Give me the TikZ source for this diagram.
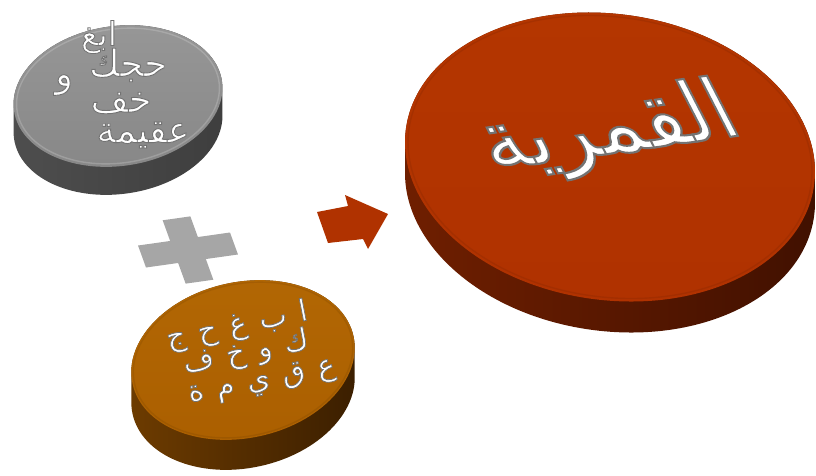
\documentclass[tikz,border=0pt]{standalone}
\usepackage{fontspec}
\newfontfamily\arabicfont[Script=Arabic, FakeBold=2.5]{DejaVu Sans}
\TeXXeTstate=1

\definecolor{greyface}{HTML}{878787}
\definecolor{greyfacelt}{HTML}{979797}
\definecolor{greysideA}{HTML}{4E4E4E}
\definecolor{greysideB}{HTML}{6A6A6A}
\definecolor{greysideC}{HTML}{3E3E3E}
\definecolor{ochreface}{HTML}{AB5F00}
\definecolor{ochrefacelt}{HTML}{B26704}
\definecolor{ochresideA}{HTML}{6E3C00}
\definecolor{ochresideB}{HTML}{5A3000}
\definecolor{ochresideC}{HTML}{3A1E00}
\definecolor{rustface}{HTML}{B03200}
\definecolor{rustfacelt}{HTML}{B43600}
\definecolor{rustsideA}{HTML}{701F00}
\definecolor{rustsideB}{HTML}{5A1800}
\definecolor{rustsideC}{HTML}{401000}
\definecolor{plusgrey}{HTML}{A6A6A6}

% white letters whose emboldening stroke is grey
\newcommand{\artext}[1]{\arabicfont\special{pdf:bcolor [1 1 1] [0.45 0.45 0.45]}\beginR #1\endR\special{pdf:ecolor}}
\newcommand{\gap}{\hspace{0.42em}}

\begin{document}
\begin{tikzpicture}[x=1pt, y=-1pt,
  lettering/.style={inner sep=0pt, text=white},
  rimline/.style={line width=1.4pt, opacity=0.18}]
\useasboundingbox (0,0) rectangle (816,475);

% ---------- grey slab ----------
\coordinate (gc) at (118,96);
\shade[left color=greysideA, middle color=greysideB, right color=greysideC]
  \foreach \k in {0,...,28} {(118,96+\k) ellipse [x radius=105pt, y radius=70pt, rotate=8]};
\shade[top color=greyfacelt, bottom color=greyface]
  (gc) ellipse [x radius=105pt, y radius=70pt, rotate=8];
\draw[rimline, white] (gc) ellipse [x radius=102pt, y radius=67pt, rotate=8];

\node[lettering, font=\fontsize{33}{35}\selectfont] (g1) at (99,37) {\artext{ابغ}};
\node[lettering, font=\fontsize{37}{39}\selectfont] (g2) at (128,65) {\artext{حجك}};
\node[lettering, font=\fontsize{37}{39}\selectfont] (g3) at (64,85) {\artext{و}};
\node[lettering, font=\fontsize{37}{39}\selectfont] (g4) at (121,103) {\artext{خف}};
\node[lettering, font=\fontsize{37}{39}\selectfont] (g5) at (143,135) {\artext{عقيمة}};

% ---------- plus sign ----------
\begin{scope}[shift={(188,250)}, x={(0.989pt,0.140pt)}, y={(0.341pt,-0.940pt)}]
  \fill[plusgrey] (-46.5,-11.7) -- (-14,-11.7) -- (-14,-33.7) -- (14,-33.7)
    -- (14,-11.7) -- (46.5,-11.7) -- (46.5,11.7) -- (14,11.7) -- (14,33.7)
    -- (-14,33.7) -- (-14,11.7) -- (-46.5,11.7) -- cycle;
\end{scope}

% ---------- ochre slab ----------
\coordinate (oc) at (243,360);
\shade[left color=ochresideA, middle color=ochresideB, right color=ochresideC]
  \foreach \k in {0,...,30} {(243,360+\k) ellipse [x radius=113pt, y radius=78pt, rotate=12]};
\shade[top color=ochrefacelt, bottom color=ochreface]
  (oc) ellipse [x radius=113pt, y radius=78pt, rotate=12];
\draw[rimline, ochreface!60!black] (oc) ellipse [x radius=111pt, y radius=76pt, rotate=12];

\node[lettering, rotate=11, font=\fontsize{30}{32}\selectfont] (o1) at (237,326) {\artext{ا\gap ب\gap غ\gap ح\gap ج}};
\node[lettering, rotate=11, font=\fontsize{30}{32}\selectfont] (o2) at (246,353) {\artext{ك\gap و\gap خ\gap ف}};
\node[lettering, rotate=11, font=\fontsize{30}{32}\selectfont] (o3) at (262,382) {\artext{ع\gap ق\gap ي\gap م\gap ة}};

% ---------- block arrow ----------
\fill[rustface] (317,212) -- (348,206) -- (345,195) -- (388,214)
  -- (368,249) -- (363,239) -- (328,243) -- cycle;

% ---------- rust slab ----------
\coordinate (rc) at (610,157);
\shade[left color=rustsideA, middle color=rustsideB, right color=rustsideC]
  \foreach \k in {0,...,31} {(610,157+\k) ellipse [x radius=206pt, y radius=143pt, rotate=-8]};
\shade[top color=rustfacelt, bottom color=rustface]
  (rc) ellipse [x radius=206pt, y radius=143pt, rotate=-8];
\draw[rimline, rustface!60!black] (rc) ellipse [x radius=203pt, y radius=140pt, rotate=-8];

\node[lettering, rotate=8, xslant=-0.35, font=\fontsize{84}{86}\selectfont] (r1) at (609,132) {\artext{القمرية}};

\end{tikzpicture}
\end{document}
